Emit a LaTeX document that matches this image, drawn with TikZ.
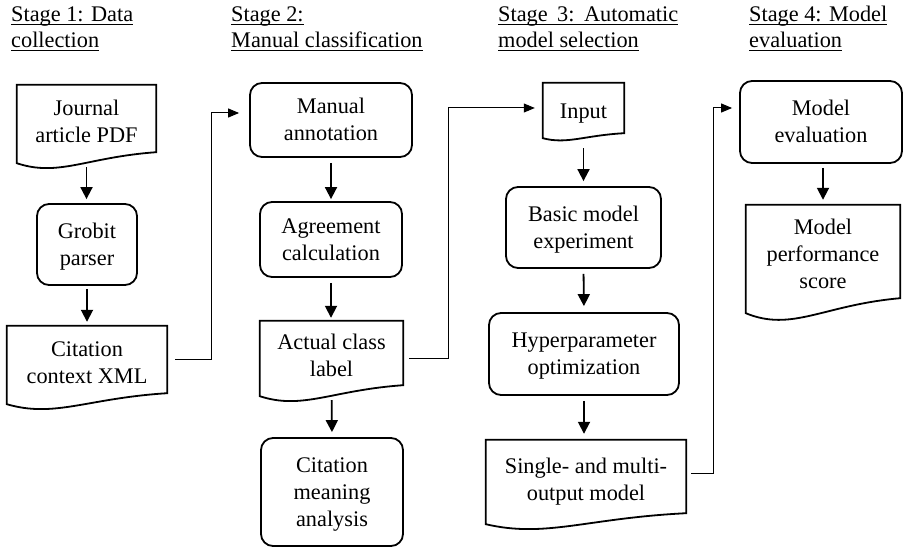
\documentclass[tikz,border=0pt]{standalone}
\usepackage{fontspec}
\setmainfont{Liberation Serif}
\usetikzlibrary{arrows.meta,calc}
\newsavebox\hdrbox
\newcommand\hdrline[1]{\sbox\hdrbox{#1}\rlap{\rule[-3.5pt]{\wd\hdrbox}{1.1pt}}\usebox\hdrbox}
\newcommand\tpad{\rule{0pt}{20pt}}
\newcommand\dpad{\rule{0pt}{26.5pt}}
\newcommand\bpad{\rule[-6pt]{0pt}{6pt}}
\tikzset{
  txt/.style={font=\fontsize{22.3}{27}\selectfont, align=center, inner sep=0pt},
  hdr/.style={font=\fontsize{22.3}{26}\selectfont, align=left, inner sep=0pt, anchor=base west},
  boxline/.style={line width=1.8pt},
  rbox/.style={txt, draw, boxline, rounded corners=12pt},
  docbox/.style={txt},
  arr/.style={line width=1.8pt, -{Triangle[length=12pt,width=12pt]}},
  conn/.style={line width=1pt, -{Triangle[length=11pt,width=9pt]}},
}
\newcommand\docoutline[2]{\draw[boxline] let \p1=(#1.south west), \p2=(#1.north east) in
  (\x1,{\y1-#2}) -- (\x1,\y2) -- (\x2,\y2) -- (\x2,\y1)
  .. controls ({\x1+0.5*(\x2-\x1)},{\y1-5/11*#2}) and ({\x1+0.3*(\x2-\x1)},{\y1-25/11*#2}) .. (\x1,{\y1-#2}) -- cycle;}
\begin{document}
\begin{tikzpicture}[x=1pt,y=-1pt]
\fill[white] (0,0) rectangle (904,548);
\useasboundingbox (0,0) rectangle (904,548);
% headers
\node[hdr] (h1) at (11,48) {\hdrline{Stage 1: Data}\\\hdrline{collection}};
\node[hdr] (h2) at (231,48) {\hdrline{Stage 2:}\\\hdrline{Manual classification}};
\node[hdr] (h3) at (498,48) {\hdrline{\hbox to 180pt{Stage\hfil\ 3:\hfil\ Automatic}}\\\hdrline{model selection}};
\node[hdr] (h4) at (749,48) {\hdrline{Stage 4: Model}\\\hdrline{evaluation}};
% stage 1
\node[docbox, minimum width=139pt, minimum height=67pt] (J) at (86.5,118.5) {\dpad Journal\\article PDF\bpad};
\docoutline{J}{11pt}
\node[rbox, minimum width=100pt, minimum height=81pt] (G) at (87,244.5) {\tpad Grobit\\parser\bpad};
\node[docbox, minimum width=160pt, minimum height=67pt] (X) at (87,359.5) {\dpad Citation\\context XML\bpad};
\docoutline{X}{11pt}
% stage 2
\node[rbox, minimum width=162pt, minimum height=74pt] (MA) at (331,120) {\tpad Manual\\annotation\bpad};
\node[rbox, minimum width=142pt, minimum height=75pt] (AC) at (331,239.5) {\tpad Agreement\\calculation\bpad};
\node[docbox, minimum width=143pt, minimum height=64pt] (AL) at (331.5,353) {\dpad Actual class\\label\bpad};
\docoutline{AL}{11pt}
\node[rbox, minimum width=142pt, minimum height=108pt] (CM) at (332,492) {\tpad Citation\\meaning\\analysis\bpad};
% stage 3
\node[docbox, minimum width=81pt, minimum height=50pt] (IN) at (583.5,108) {\dpad Input\bpad};
\docoutline{IN}{5pt}
\node[rbox, minimum width=155pt, minimum height=81pt] (BM) at (583.5,227.5) {\tpad Basic model\\experiment\bpad};
\node[rbox, minimum width=190pt, minimum height=82pt] (HO) at (584,354) {\tpad Hyperparameter\\optimization\bpad};
\node[docbox, minimum width=200pt, minimum height=73pt] (SM) at (586,476.5) {\dpad Single- and multi-\\output model\bpad};
\docoutline{SM}{11pt}
% stage 4
\node[rbox, minimum width=162pt, minimum height=82pt] (ME) at (821,122) {\tpad Model\\evaluation\bpad};
\node[docbox, minimum width=154pt, minimum height=93pt] (MP) at (823,251.5) {\dpad Model\\performance\\score\bpad};
\docoutline{MP}{15pt}
% vertical arrows
\draw[arr, shorten <=15pt, shorten >=4pt] (J.south) -- (J.south |- G.north);
\draw[arr, shorten <=3pt, shorten >=4pt] (G.south) -- (X.north);
\draw[arr, shorten <=5pt, shorten >=2pt] (MA.south) -- (AC.north);
\draw[arr, shorten <=5pt, shorten >=3pt] (AC.south) -- (AC.south |- AL.north);
\draw[arr, shorten <=15pt, shorten >=5pt] (AL.south) -- (CM.north);
\draw[arr, shorten <=15pt, shorten >=5pt] (IN.south) -- (BM.north);
\draw[arr, shorten <=5pt, shorten >=6pt] (BM.south) -- (HO.north);
\draw[arr, shorten <=5pt, shorten >=6pt] (HO.south) -- (HO.south |- SM.north);
\draw[arr, shorten <=4pt, shorten >=5pt] (ME.south -| MP.north) -- (MP.north);
% elbow connectors
\draw[conn] ([xshift=8pt]X.east) -- ++(36pt,0) |- ([xshift=-10pt,yshift=7pt]MA.west);
\draw[conn] ([xshift=6pt,yshift=-5pt]AL.east) -- ++(39pt,0) |- ([xshift=-8pt]IN.west);
\draw[conn] ([xshift=5pt,yshift=3.5pt]SM.east) -- ++(22pt,0) |- ([xshift=-7pt,yshift=14pt]ME.west);
\end{tikzpicture}
\end{document}
